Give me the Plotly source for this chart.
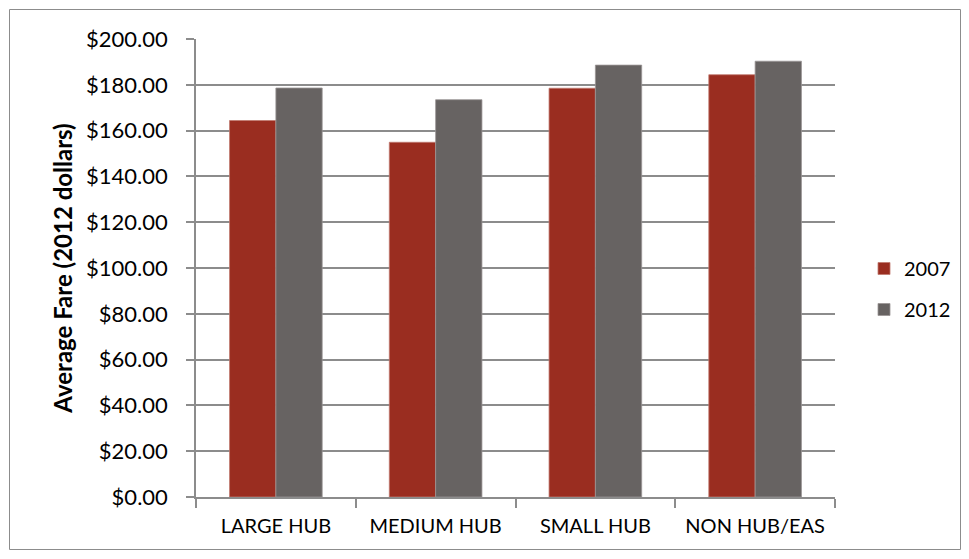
import plotly.graph_objects as go

categories = ["LARGE HUB", "MEDIUM HUB", "SMALL HUB", "NON HUB/EAS"]
fare_2007 = [164.4, 154.9, 178.5, 184.4]
fare_2012 = [178.6, 173.5, 188.6, 190.3]
tick_vals = [0, 20, 40, 60, 80, 100, 120, 140, 160, 180, 200]
tick_text = ["$%.2f" % v for v in tick_vals]

W, H = 969, 559
L, R, T, B = 196, 134, 39, 62
pw, ph = W - L - R, H - T - B

fig = go.Figure()
fig.add_trace(go.Bar(x=categories, y=fare_2007, name="2007", legendgroup="a",
                     marker=dict(color="#9A2D20", line=dict(color="#C07a70", width=0.8))))
fig.add_trace(go.Bar(x=categories, y=fare_2012, name="2012", legendgroup="b",
                     marker=dict(color="#676362", line=dict(color="#9a9696", width=0.8))))

def px_x(x):
    return (x - L) / pw

def px_y(y):
    return (H - B - y) / ph

fig.add_shape(type="rect", xref="paper", yref="paper",
              x0=px_x(9.5), x1=px_x(960.5), y0=px_y(549.5), y1=px_y(9.5),
              line=dict(color="#8c8c8c", width=1), fillcolor="rgba(0,0,0,0)", layer="below")

font_family = "Lato, 'Open Sans', sans-serif"
fs = 20
fig.update_layout(
    width=W, height=H,
    margin=dict(l=L, r=R, t=T, b=B, autoexpand=False),
    paper_bgcolor="white", plot_bgcolor="white",
    barmode="group", bargap=0.42, bargroupgap=0,
    font=dict(family=font_family, size=fs, color="black"),
    showlegend=True,
    legend=dict(x=px_x(864), y=px_y(249), xanchor="left", yanchor="top",
                font=dict(size=fs), tracegroupgap=12, bgcolor="rgba(0,0,0,0)"),
    xaxis=dict(type="category", showline=True, linecolor="#8c8c8c", linewidth=1.5,
               ticks="outside", tickson="boundaries", ticklen=9, tickcolor="#8c8c8c",
               tickwidth=1.5, showgrid=False, tickfont=dict(size=fs), ticklabelstandoff=10),
    yaxis=dict(range=[0, 200], tickvals=tick_vals, ticktext=tick_text,
               showline=True, linecolor="#8c8c8c", linewidth=1.5,
               ticks="outside", ticklen=8, tickcolor="#8c8c8c", tickwidth=1.5,
               showgrid=True, gridcolor="#8c8c8c", gridwidth=1.5,
               tickfont=dict(size=22), zeroline=False, ticklabelstandoff=14,
               title=dict(text="<b>Average Fare (2012 dollars)</b>", font=dict(size=24), standoff=7)),
)

fig.write_html("out.html")
